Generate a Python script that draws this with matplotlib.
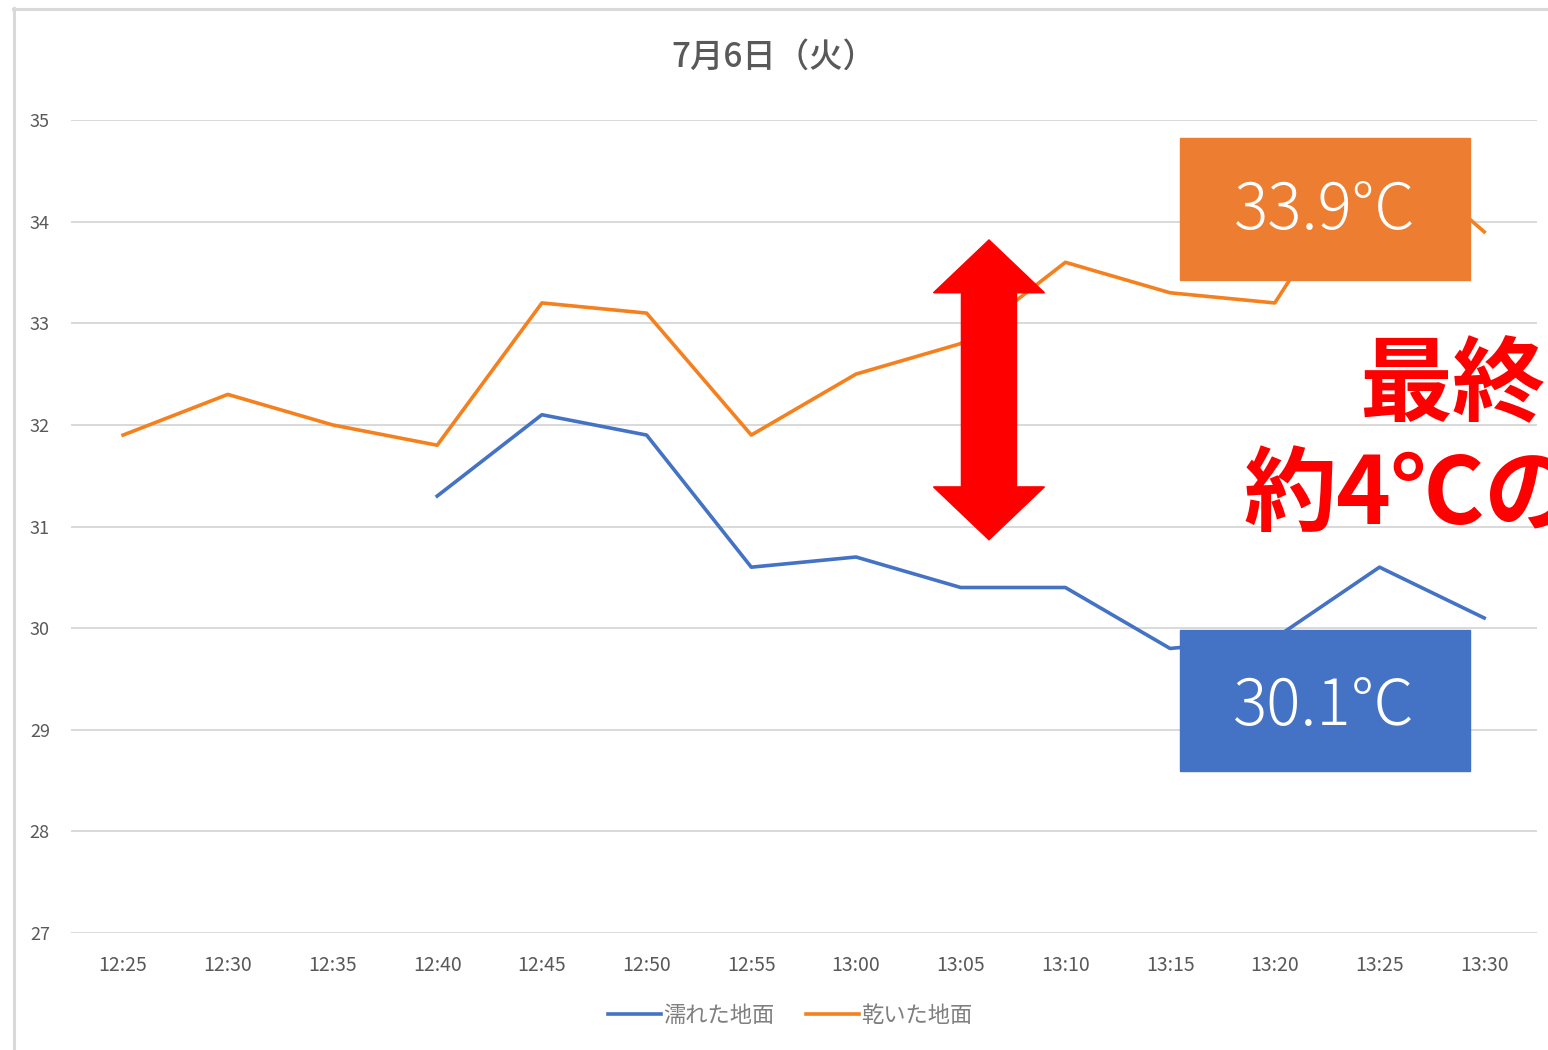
"""7月6日の地面温度の比較（濡れた地面 / 乾いた地面）"""

import numpy as np
import matplotlib
matplotlib.use('Agg')
import matplotlib.pyplot as plt
from matplotlib.patches import Polygon, Rectangle
from matplotlib.lines import Line2D

plt.rcParams['font.family'] = ['Noto Sans CJK JP', 'DejaVu Sans']

times = ['12:25', '12:30', '12:35', '12:40', '12:45', '12:50', '12:55',
         '13:00', '13:05', '13:10', '13:15', '13:20', '13:25', '13:30']
wet = [np.nan, np.nan, np.nan, 31.3, 32.1, 31.9, 30.6,
       30.7, 30.4, 30.4, 29.8, 29.9, 30.6, 30.1]
dry = [31.9, 32.3, 32.0, 31.8, 33.2, 33.1, 31.9,
       32.5, 32.8, 33.6, 33.3, 33.2, 34.8, 33.9]
y_ticks = [27, 28, 29, 30, 31, 32, 33, 34, 35]

title = '7月6日（火）'
wet_label = '濡れた地面'
dry_label = '乾いた地面'
dry_final = '33.9°C'
wet_final = '30.1℃'
note_1 = '最終'
note_2 = '約4℃の'

blue = '#4472C4'
orange = '#ED7D31'
line_orange = '#F5801E'
grid_c = '#d9d9d9'
text_c = '#595959'

fig = plt.figure(figsize=(15.48, 10.5), dpi=100)
ax = fig.add_axes([0.0457, 0.1114, 0.9469, 0.7743])

x = np.arange(len(times))
ax.plot(x, wet, color=blue, lw=2.6, label=wet_label, zorder=3)
ax.plot(x, dry, color=line_orange, lw=2.6, label=dry_label, zorder=3)

ax.set_xlim(-0.5, len(times) - 0.5)
ax.set_ylim(27, 35)
ax.set_yticks(y_ticks)
ax.set_xticks(x)
ax.set_xticklabels(times)
ax.tick_params(axis='y', length=0, pad=15, labelsize=13, labelcolor=text_c)
ax.tick_params(axis='x', length=0, pad=16, labelsize=14, labelcolor=text_c)
for s in ax.spines.values():
    s.set_visible(False)
ax.grid(axis='y', color=grid_c, lw=1.4)
ax.set_axisbelow(True)

fig.text(0.5, 1 - 57 / 1050, title, ha='center', va='center',
         fontsize=24, color=text_c, fontweight='medium')

fig.legend(loc='center', bbox_to_anchor=(790 / 1548, 1 - 1015 / 1050), ncol=2,
           frameon=False, fontsize=16, labelcolor='#7f7f7f',
           handlelength=2.4, handletextpad=0.1, columnspacing=1.4)

# value boxes
box_x0, box_x1 = 10.09, 12.86
ax.add_patch(Rectangle((box_x0, 33.43), box_x1 - box_x0, 1.39,
                       color=orange, zorder=5, clip_on=False))
ax.add_patch(Rectangle((box_x0, 28.59), box_x1 - box_x0, 1.39,
                       color=blue, zorder=5, clip_on=False))
bx = (box_x0 + box_x1) / 2
ax.text(bx, 34.10, dry_final, ha='center', va='center', color='white',
        fontsize=46, fontweight='light', zorder=6)
ax.text(bx, 29.22, wet_final, ha='center', va='center', color='white',
        fontsize=46, fontweight='light', zorder=6)

# double arrow
ac, top, bot = 8.27, 33.82, 30.87
sw, hw, hl = 0.263, 0.53, 0.52
arrow = [(ac, top), (ac + hw, top - hl), (ac + sw, top - hl),
         (ac + sw, bot + hl), (ac + hw, bot + hl), (ac, bot),
         (ac - hw, bot + hl), (ac - sw, bot + hl), (ac - sw, top - hl),
         (ac - hw, top - hl)]
ax.add_patch(Polygon(arrow, closed=True, color='#FF0000', zorder=4))

ax.text(11.80, 32.38, note_1, ha='left', va='center', color='#FF0000',
        fontsize=67, fontweight='bold', zorder=6, clip_on=False)
ax.text(10.70, 31.30, note_2, ha='left', va='center', color='#FF0000',
        fontsize=67, fontweight='bold', zorder=6, clip_on=False)

# outer frame (top and left edge)
fig.add_artist(Line2D([13 / 1548, 1], [1 - 8.5 / 1050, 1 - 8.5 / 1050],
                      color=grid_c, lw=2.2))
fig.add_artist(Line2D([13.5 / 1548, 13.5 / 1548], [0, 1 - 8 / 1050],
                      color=grid_c, lw=2.2))

fig.savefig('out.png', dpi=100)
